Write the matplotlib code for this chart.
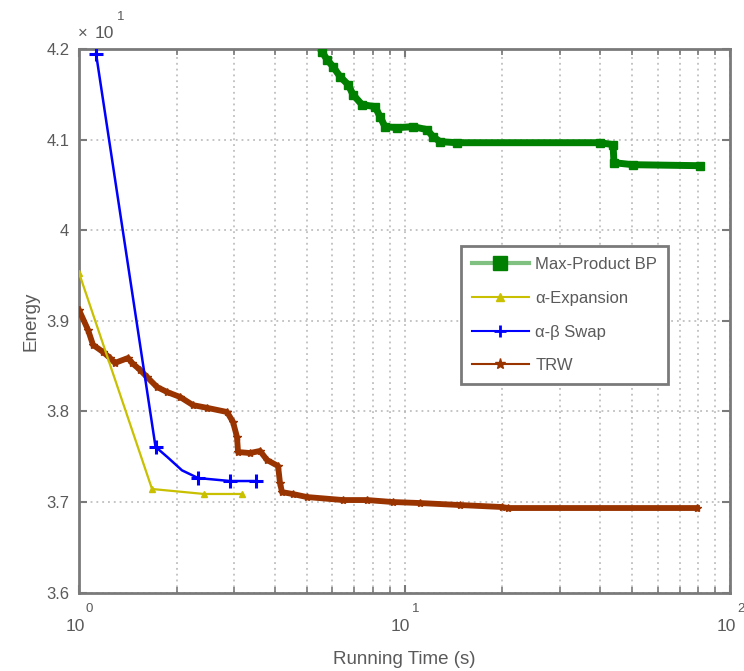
import matplotlib
matplotlib.use("Agg")
import matplotlib.pyplot as plt
from matplotlib.lines import Line2D
from matplotlib.ticker import FuncFormatter, LogLocator, MultipleLocator, NullFormatter

plt.rcParams['font.family'] = ['Liberation Sans', 'DejaVu Sans']

# Running time (s) and energy (scaled by the axis multiplier) for each optimiser
bp_time = [5.58, 5.78, 6.03, 6.34, 6.71, 6.95, 7.40, 8.12, 8.41, 8.71, 9.48,
           10.62, 11.73, 12.24, 12.86, 14.50, 39.86, 43.72, 44.0, 50.35, 80.9]
bp_energy = [4.197, 4.1884, 4.1807, 4.1696, 4.1608, 4.1497, 4.1387, 4.1365,
             4.1254, 4.1144, 4.1133, 4.1144, 4.1111, 4.1033, 4.0978, 4.0967,
             4.0967, 4.0945, 4.0746, 4.0724, 4.0713]

exp_time = [1.0, 1.676, 2.421, 3.168]
exp_energy = [3.953, 3.7144, 3.7089, 3.7089]

swap_time = [1.128, 1.718, 1.877, 2.072, 2.321, 2.911, 3.499]
swap_energy = [4.195, 3.761, 3.749, 3.735, 3.7265, 3.7232, 3.7232]

trw_time = [1.0, 1.066, 1.104, 1.185, 1.245, 1.290, 1.414, 1.455, 1.539, 1.618,
            1.736, 1.864, 2.043, 2.239, 2.474, 2.849, 2.972, 3.058, 3.080, 3.352,
            3.598, 3.781, 4.088, 4.145, 4.204, 4.545, 5.018, 6.47, 7.67, 9.22,
            11.16, 14.81, 19.93, 20.8, 79.2]
trw_energy = [3.912, 3.890, 3.8735, 3.8657, 3.859, 3.8536, 3.859, 3.8536, 3.8459,
              3.838, 3.827, 3.8215, 3.816, 3.807, 3.804, 3.7994, 3.7884, 3.7718,
              3.7552, 3.7541, 3.7564, 3.7464, 3.7398, 3.721, 3.711, 3.7088,
              3.7055, 3.7022, 3.7022, 3.700, 3.6989, 3.6967, 3.6945, 3.6934, 3.6934]

labels = ['Max-Product BP', 'α-Expansion', 'α-β Swap', 'TRW']
x_decades = [0, 1, 2]
y_exponent = '1'

C_BP = '#008000'
C_EXP = '#c8c000'
C_SWAP = '#0000ff'
C_TRW = '#993300'
AX_GRAY = '#7a7a7a'
TXT = '#5a5a5a'

fig = plt.figure(figsize=(7.44, 6.71), dpi=100)
ax = fig.add_axes([0.1062, 0.1168, 0.875, 0.810])

ax.plot(bp_time, bp_energy, color=C_BP, lw=5.0, marker='s', ms=6,
        solid_joinstyle='miter', zorder=3)
ax.plot(exp_time, exp_energy, color=C_EXP, lw=1.6, marker='^', ms=5, zorder=4)
ax.plot(swap_time, swap_energy, color=C_SWAP, lw=1.8, marker='+', ms=10, mew=2.2,
        markevery=[0, 1, 4, 5, 6], zorder=5)
ax.plot(trw_time, trw_energy, color=C_TRW, lw=4.2, marker='*', ms=6, zorder=3)

ax.set_xscale('log')
ax.set_xlim(1, 100)
ax.set_ylim(3.6, 4.2)
ax.yaxis.set_major_locator(MultipleLocator(0.1))
ax.yaxis.set_major_formatter(FuncFormatter(lambda v, p: '%g' % round(v, 2)))
ax.xaxis.set_major_locator(LogLocator(base=10))
ax.xaxis.set_minor_locator(LogLocator(base=10, subs=range(2, 10)))
ax.xaxis.set_major_formatter(NullFormatter())

grid_style = dict(color='#b4b4b4', linestyle=(0, (1.2, 2.6)), linewidth=1.1)
ax.grid(True, which='major', axis='both', **grid_style)
ax.grid(True, which='minor', axis='x', **grid_style)
ax.set_axisbelow(True)

for s in ax.spines.values():
    s.set_color(AX_GRAY)
    s.set_linewidth(2)

ax.tick_params(which='both', direction='in', top=True, right=True,
               colors=AX_GRAY, labelcolor=TXT, labelsize=12)
ax.tick_params(which='major', length=6, width=1.5)
ax.tick_params(which='minor', length=4, width=1.2)
ax.tick_params(axis='y', which='major', pad=7)

# decade labels on the log axis: base and raised exponent
for d in x_decades:
    v = 10.0 ** d
    ax.annotate('10', xy=(v, 0), xycoords=('data', 'axes fraction'),
                xytext=(4.3, -24.5), textcoords='offset points',
                ha='right', va='center', fontsize=12.5, color=TXT)
    ax.annotate(str(d), xy=(v, 0), xycoords=('data', 'axes fraction'),
                xytext=(5.0, -11.5), textcoords='offset points',
                ha='left', va='center', fontsize=9.5, color=TXT,
                annotation_clip=False)

ax.set_xlabel('Running Time (s)', fontsize=13.5, color=TXT)
ax.xaxis.label.set_va('center')
ax.xaxis.set_label_coords(0.5, -0.1234)
ax.set_ylabel('Energy', fontsize=13.5, color=TXT)
ax.yaxis.label.set_va('center')
ax.yaxis.set_label_coords(-0.0745, 0.5)

# axis multiplier above the y axis
fig.text(82.5 / 744, 1 - 33 / 671, '×', fontsize=12, color=TXT, ha='center', va='center')
fig.text(95 / 744, 1 - 34 / 671, '10', fontsize=12.5, color=TXT, ha='left', va='center')
fig.text(117 / 744, 1 - 17 / 671, y_exponent, fontsize=9.5, color=TXT, ha='left', va='center')

handles = [
    Line2D([], [], color='#80c080', lw=3.0, marker='s', ms=10, mfc=C_BP, mec=C_BP),
    Line2D([], [], color=C_EXP, lw=1.5, marker='^', ms=6, mfc=C_EXP, mec=C_EXP),
    Line2D([], [], color=C_SWAP, lw=1.5, marker='+', ms=9, mew=2, mec=C_SWAP),
    Line2D([], [], color=C_TRW, lw=1.5, marker='*', ms=8, mfc=C_TRW, mec=C_TRW),
]
leg = ax.legend(handles, labels, loc='upper left', bbox_to_anchor=(0.587, 0.637),
                fontsize=12, handlelength=3.4, handletextpad=0.4, labelspacing=1.12,
                borderpad=0.65, borderaxespad=0, fancybox=False, framealpha=1)
leg.get_frame().set_edgecolor(AX_GRAY)
leg.get_frame().set_linewidth(2)
for t in leg.get_texts():
    t.set_color(TXT)

fig.savefig('out.png', dpi=100)
